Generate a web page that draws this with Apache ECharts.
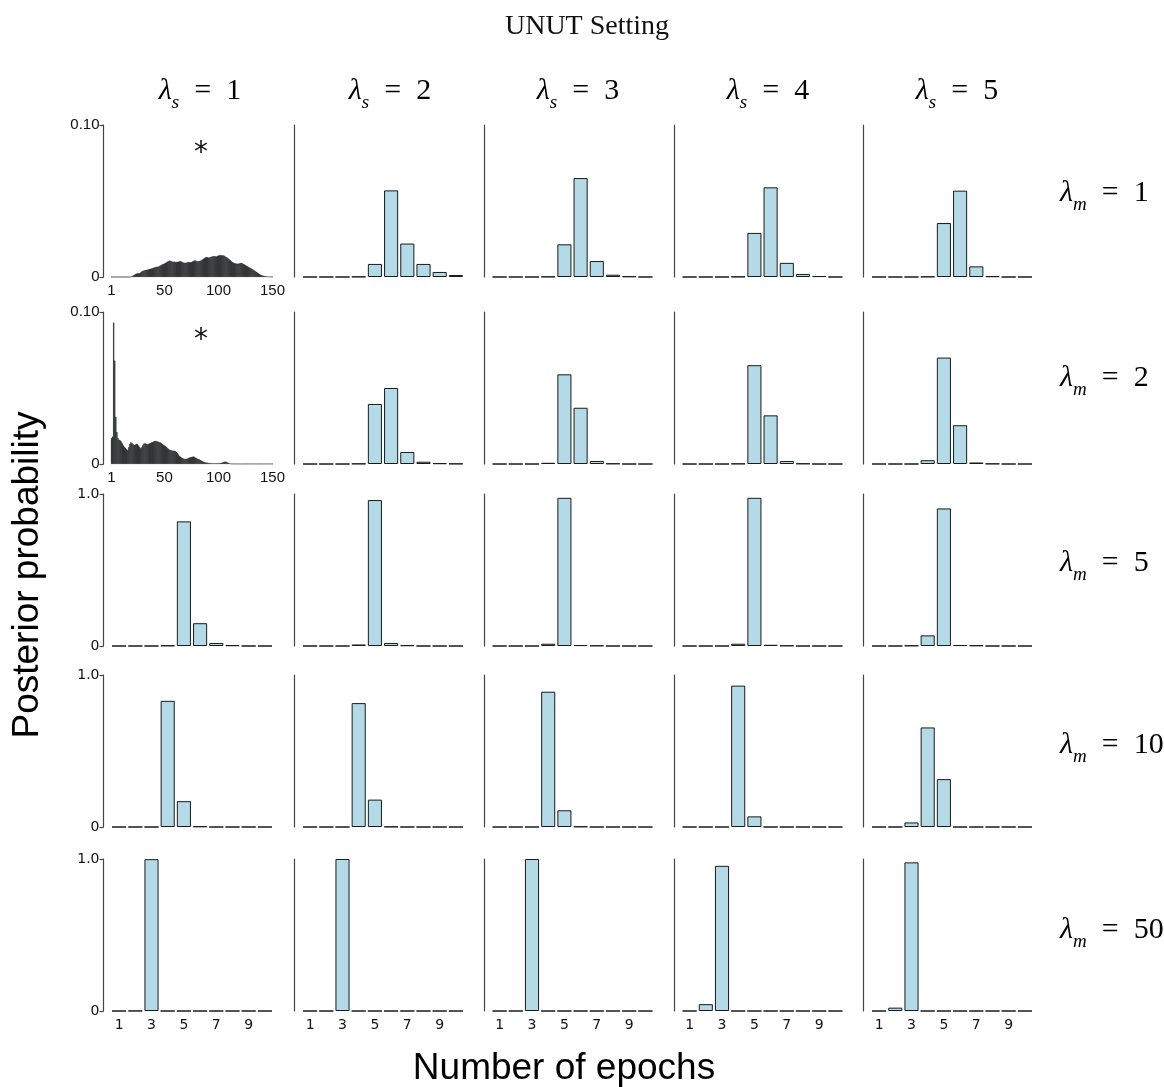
<!DOCTYPE html>
<html>
<head>
<meta charset="utf-8">
<script src="https://cdn.jsdelivr.net/npm/echarts@6/dist/echarts.min.js"></script>
<style>html,body{margin:0;padding:0;background:#fff}#c{width:1164px;height:1087px}</style>
</head>
<body>
<div id="c"></div>
<script>
// ---------------- DATA ----------------
const epochCats = ['1','2','3','4','5','6','7','8','9','10'];
const histCats = []; for (let i = 1; i <= 150; i++) histCats.push(String(i));
const epochTickLabels = ['1','3','5','7','9'];
const histTickLabels = ['1','50','100','150'];
const lambdaS = [1, 2, 3, 4, 5];
const lambdaM = [1, 2, 5, 10, 50];

// lambda_m = 1, lambda_s = 1 : posterior over 1..150 epochs
const histM1 = [
0,0,0,0,0,0,0,0,0,0,
0,0,0,0,0,0,0,0,0.0003,0.0006,
0.001,0.0015,0.0019,0.0022,0.0024,0.0023,0.0026,0.003,0.0036,0.004,
0.0043,0.0045,0.0047,0.0048,0.005,0.0052,0.0054,0.0056,0.0058,0.0061,
0.0064,0.0066,0.0067,0.0068,0.0071,0.0075,0.0079,0.0083,0.0086,0.0089,
0.0093,0.0097,0.0101,0.0105,0.0108,0.0106,0.0102,0.0100,0.0101,0.0099,
0.0098,0.0100,0.0101,0.0103,0.0104,0.0101,0.0097,0.0095,0.0093,0.0094,
0.0097,0.0099,0.0098,0.0096,0.0098,0.0102,0.0106,0.0109,0.0108,0.0104,
0.0103,0.0105,0.0107,0.0110,0.0115,0.0120,0.0125,0.0129,0.0131,0.0130,
0.0128,0.0129,0.0132,0.0135,0.0137,0.0138,0.0136,0.0135,0.0138,0.0141,
0.0143,0.0144,0.0142,0.0143,0.0141,0.0137,0.0133,0.0128,0.0122,0.0116,
0.0110,0.0104,0.0098,0.0094,0.0091,0.0089,0.0088,0.0087,0.0089,0.0091,
0.0093,0.0090,0.0086,0.0082,0.0078,0.0074,0.0070,0.0066,0.0062,0.0058,
0.0054,0.0049,0.0044,0.0039,0.0034,0.0029,0.0024,0.0019,0.0015,0.0012,
0.0010,0.0008,0.0006,0.0005,0.0004,0.0003,0.0002,0.0002,0.0001,0.0001
];
// lambda_m = 2, lambda_s = 1 : posterior over 1..150 epochs
const histM2 = [
0.017,0.018,0.093,0.068,0.031,0.021,0.017,0.016,0.0155,0.0148,
0.0135,0.0122,0.0113,0.0105,0.0096,0.0092,0.0110,0.0132,0.0143,0.0138,
0.0130,0.0126,0.0128,0.0132,0.0130,0.0122,0.0112,0.0104,0.0110,0.0124,
0.0134,0.0137,0.0133,0.0130,0.0131,0.0134,0.0138,0.0141,0.0144,0.0148,
0.0151,0.0152,0.0150,0.0147,0.0144,0.0142,0.0138,0.0133,0.0127,0.0122,
0.0118,0.0112,0.0105,0.0099,0.0094,0.0091,0.0089,0.0088,0.0087,0.0085,
0.0080,0.0072,0.0062,0.0053,0.0047,0.0042,0.0038,0.0035,0.0033,0.0034,
0.0036,0.0039,0.0042,0.0044,0.0046,0.0048,0.0049,0.0046,0.0041,0.0037,
0.0034,0.0031,0.0027,0.0023,0.0019,0.0015,0.0012,0.0010,0.0009,0.0008,
0.0007,0.0006,0.0005,0.0005,0.0004,0.0004,0.0004,0.0004,0.0004,0.0004,
0.0005,0.0006,0.0008,0.0011,0.0014,0.0016,0.0015,0.0012,0.0008,0.0005,
0.0003,0.0002,0.0002,0.0001,0.0001,0.0001,0.0001,0.0001,0.0001,0.0001,
0.0001,0.0001,0.0001,0.0001,0.0001,0.0001,0.0001,0.0001,0.0001,0.0001,
0.0001,0.0001,0.0001,0.0001,0.0001,0.0001,0.0001,0.0001,0.0001,0.0001,
0.0001,0.0001,0.0001,0.0001,0.0001,0.0001,0.0001,0.0001,0.0001,0.0001
];

// rows: lambda_m; entries: lambda_s = 1..5 over epochs 1..10 (histograms for lambda_s = 1 in rows 1-2)
const probM1 = [
  histM1,
  [0,0,0,0.002,0.086,0.57,0.22,0.086,0.033,0.013],
  [0,0,0,0.002,0.215,0.651,0.105,0.015,0.004,0],
  [0,0,0,0.002,0.29,0.59,0.093,0.02,0.006,0],
  [0,0,0,0.002,0.355,0.568,0.07,0.005,0,0]
];
const probM2 = [
  histM2,
  [0,0,0,0.002,0.395,0.50,0.079,0.015,0.005,0.002],
  [0,0,0,0.008,0.59,0.37,0.02,0.003,0,0],
  [0,0,0,0.002,0.65,0.32,0.02,0.003,0,0],
  [0,0,0,0.025,0.70,0.255,0.01,0.002,0,0]
];
const probM5 = [
  [0,0,0,0.003,0.82,0.15,0.02,0.005,0,0],
  [0,0,0,0.01,0.96,0.02,0.005,0,0,0],
  [0,0,0,0.015,0.975,0.006,0.003,0,0,0],
  [0,0,0,0.015,0.975,0.008,0.003,0,0,0],
  [0,0,0.003,0.07,0.905,0.006,0.004,0,0,0]
];
const probM10 = [
  [0,0,0,0.83,0.17,0.004,0,0,0,0],
  [0,0,0,0.815,0.18,0.002,0,0,0,0],
  [0,0,0,0.89,0.11,0.003,0,0,0,0],
  [0,0,0,0.93,0.07,0,0,0,0,0],
  [0,0,0.03,0.655,0.315,0,0,0,0,0]
];
const probM50 = [
  [0,0.001,0.999,0,0,0,0,0,0,0],
  [0,0,1.0,0,0,0,0,0,0,0],
  [0,0,1.0,0,0,0,0,0,0,0],
  [0,0.045,0.955,0,0,0,0,0,0,0],
  [0,0.022,0.978,0,0,0,0,0,0,0]
];
const allRows = [probM1, probM2, probM5, probM10, probM50];

// ---------------- LAYOUT ----------------
const axisX = [103.5, 294.5, 484, 674, 863.5];
const rowTop = [125, 312, 494, 675, 859];
const panelH = 152, panelW = 162, axisGap = 7.5;
const headerX = [200, 390, 578, 768, 957];
const rowLabelY = [190, 375, 560, 742, 927];

const grids = [], xAxes = [], yAxes = [], series = [];
let gi = 0;
for (let r = 0; r < 5; r++) {
  for (let c = 0; c < 5; c++) {
    const isHist = (r < 2 && c === 0);
    const yMax = isHist ? 0.1 : 1;
    const showY = (c === 0);
    const showX = (r === 4) || isHist;
    grids.push({ left: axisX[c] + axisGap, top: rowTop[r], width: panelW, height: panelH, containLabel: false });
    const cats = isHist ? histCats : epochCats;
    const tickSet = isHist ? histTickLabels : epochTickLabels;
    xAxes.push({
      type: 'category', gridIndex: gi, data: cats,
      axisLine: { show: false }, axisTick: { show: false },
      axisLabel: {
        show: showX,
        interval: (idx, val) => tickSet.indexOf(val) >= 0,
        margin: isHist ? 6 : 7,
        fontFamily: isHist ? 'Liberation Sans' : 'DejaVu Sans',
        fontSize: isHist ? 15 : 14, color: '#111'
      }
    });
    yAxes.push({
      type: 'value', gridIndex: gi, min: 0, max: yMax, interval: yMax,
      offset: axisGap,
      axisLine: { show: true, lineStyle: { color: '#444', width: 1.2 } },
      axisTick: { show: showY, length: 4, lineStyle: { color: '#444', width: 1.2 } },
      splitLine: { show: false },
      axisLabel: {
        show: showY, margin: 4,
        fontFamily: isHist ? 'Liberation Sans' : 'DejaVu Sans',
        fontSize: isHist ? 15 : 14, color: '#111',
        formatter: v => v === 0 ? '0' : (isHist ? v.toFixed(2) : v.toFixed(1))
      }
    });
    const vals = allRows[r][c];
    series.push(isHist ? {
      type: 'bar', xAxisIndex: gi, yAxisIndex: gi, data: vals,
      barCategoryGap: '0%', silent: true, animation: false,
      itemStyle: { color: '#22292c', borderColor: '#0a0a0a', borderWidth: 0.4 }
    } : {
      type: 'bar', xAxisIndex: gi, yAxisIndex: gi, data: vals,
      barCategoryGap: '13%', silent: true, animation: false,
      itemStyle: { color: '#b3dae6', borderColor: '#1a1a1a', borderWidth: 1 }
    });
    gi++;
  }
}

const lamRich = {
  l: { fontFamily: 'Liberation Serif', fontStyle: 'italic', fontSize: 30, color: '#111', lineHeight: 36, verticalAlign: 'bottom' },
  s: { fontFamily: 'Liberation Serif', fontStyle: 'italic', fontSize: 19, color: '#111', lineHeight: 36, verticalAlign: 'bottom', padding: [0, 0, -6, 0] },
  e: { fontFamily: 'Liberation Serif', fontSize: 30, color: '#111', lineHeight: 36, verticalAlign: 'bottom' }
};
const graphics = [];
graphics.push({ type: 'text', x: 587, y: 27,
  style: { text: 'UNUT Setting', fontFamily: 'Liberation Serif', fontSize: 28, fill: '#111', align: 'center', verticalAlign: 'middle' } });
lambdaS.forEach((v, i) => {
  graphics.push({
    type: 'text', x: headerX[i], y: 88,
    style: { text: '{l|λ}{s|s}{e|  =  ' + v + '}', rich: lamRich, align: 'center', verticalAlign: 'middle' }
  });
});
lambdaM.forEach((v, i) => {
  graphics.push({
    type: 'text', x: 1060, y: rowLabelY[i],
    style: { text: '{l|λ}{s|m}{e|  =  ' + v + '}', rich: lamRich, align: 'left', verticalAlign: 'middle' }
  });
});
[154, 341].forEach(y => {
  graphics.push({ type: 'text', x: 201, y: y,
    style: { text: '*', fontFamily: 'DejaVu Sans', fontSize: 28, fill: '#111', align: 'center', verticalAlign: 'middle' } });
});
graphics.push({ type: 'text', x: 28, y: 575, rotation: Math.PI / 2,
  style: { text: 'Posterior probability', fontFamily: 'Liberation Sans', fontSize: 37, fill: '#000', align: 'center', verticalAlign: 'middle' } });
graphics.push({ type: 'text', x: 564, y: 1069,
  style: { text: 'Number of epochs', fontFamily: 'Liberation Sans', fontSize: 37, fill: '#000', align: 'center', verticalAlign: 'middle' } });

const chart = echarts.init(document.getElementById('c'), null, { renderer: 'canvas' });
chart.setOption({
  animation: false,
  backgroundColor: '#fff',
  grid: grids, xAxis: xAxes, yAxis: yAxes, series: series,
  graphic: graphics
});
</script>
</body>
</html>
